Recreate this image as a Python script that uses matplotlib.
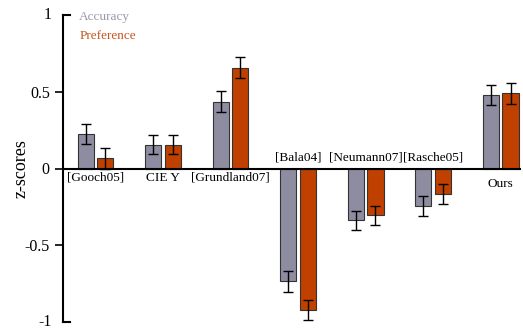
import matplotlib
matplotlib.use("Agg")
import matplotlib.pyplot as plt
import numpy as np

methods = ["[Gooch05]", "CIE Y", "[Grundland07]", "[Bala04]", "[Neumann07]", "[Rasche05]", "Ours"]
accuracy = [0.226, 0.156, 0.436, -0.736, -0.337, -0.243, 0.480]
acc_err = [0.064, 0.063, 0.067, 0.066, 0.063, 0.065, 0.065]
preference = [0.067, 0.156, 0.656, -0.920, -0.304, -0.165, 0.489]
pref_err = [0.067, 0.063, 0.069, 0.065, 0.062, 0.065, 0.068]

GREY, ORANGE = "#8e8ca0", "#c04000"
plt.rcParams["font.family"] = ["Liberation Serif", "DejaVu Serif"]

fig = plt.figure(figsize=(5.23, 3.31), dpi=100)
ax = fig.add_axes([63/523, 9/331, (521-63)/523, (322-15)/331])

x = np.arange(len(methods))
w = 0.24
ek = dict(ecolor="black", capsize=3.5, elinewidth=1, capthick=1)
ax.bar(x - 0.145, accuracy, w, yerr=acc_err, color=GREY, edgecolor="#333333", lw=0.8, error_kw=ek, zorder=2)
ax.bar(x + 0.145, preference, w, yerr=pref_err, color=ORANGE, edgecolor="#333333", lw=0.8, error_kw=ek, zorder=2)
ax.axhline(0, color="black", lw=1.5, zorder=3)

# method labels: below the zero line for positive groups, above for negative ones
for i, m in enumerate(methods):
    if accuracy[i] < 0:
        ax.text(i, 0.035, m, ha="center", va="bottom", fontsize=9.5)
    elif m == "Ours":
        ax.text(i, -0.06, m, ha="center", va="top", fontsize=9.5)
    else:
        ax.text(i, -0.02, m, ha="center", va="top", fontsize=9.5)

ax.text(-0.24, 0.985, "Accuracy", color="#9a98ab", fontsize=9.5, va="center")
ax.text(-0.24, 0.865, "Preference", color="#c8541e", fontsize=9.5, va="center")

ax.set_xlim(-0.48, 6.30)
ax.set_ylim(-1, 1)
ax.set_xticks([])
ax.set_yticks([0.5, 0, -0.5])
ax.set_yticklabels(["0.5", "0", "-0.5"], fontsize=11.5)
ax.tick_params(axis="y", direction="out", length=6, width=1.2)
# end caps at 1 and -1 point inward
for yv, lab in [(1, "1"), (-1, "-1")]:
    ax.plot([-0.48, -0.37], [yv, yv], color="black", lw=1.5, clip_on=False)
    ax.text(-0.65, yv, lab, ha="right", va="center", fontsize=11.5)
for s in ("top", "right", "bottom"):
    ax.spines[s].set_visible(False)
ax.spines["left"].set_linewidth(1.5)
ax.set_ylabel("z-scores", fontsize=13)
ax.yaxis.set_label_coords(-0.074, 0.5)

fig.savefig("out.png", dpi=100)
